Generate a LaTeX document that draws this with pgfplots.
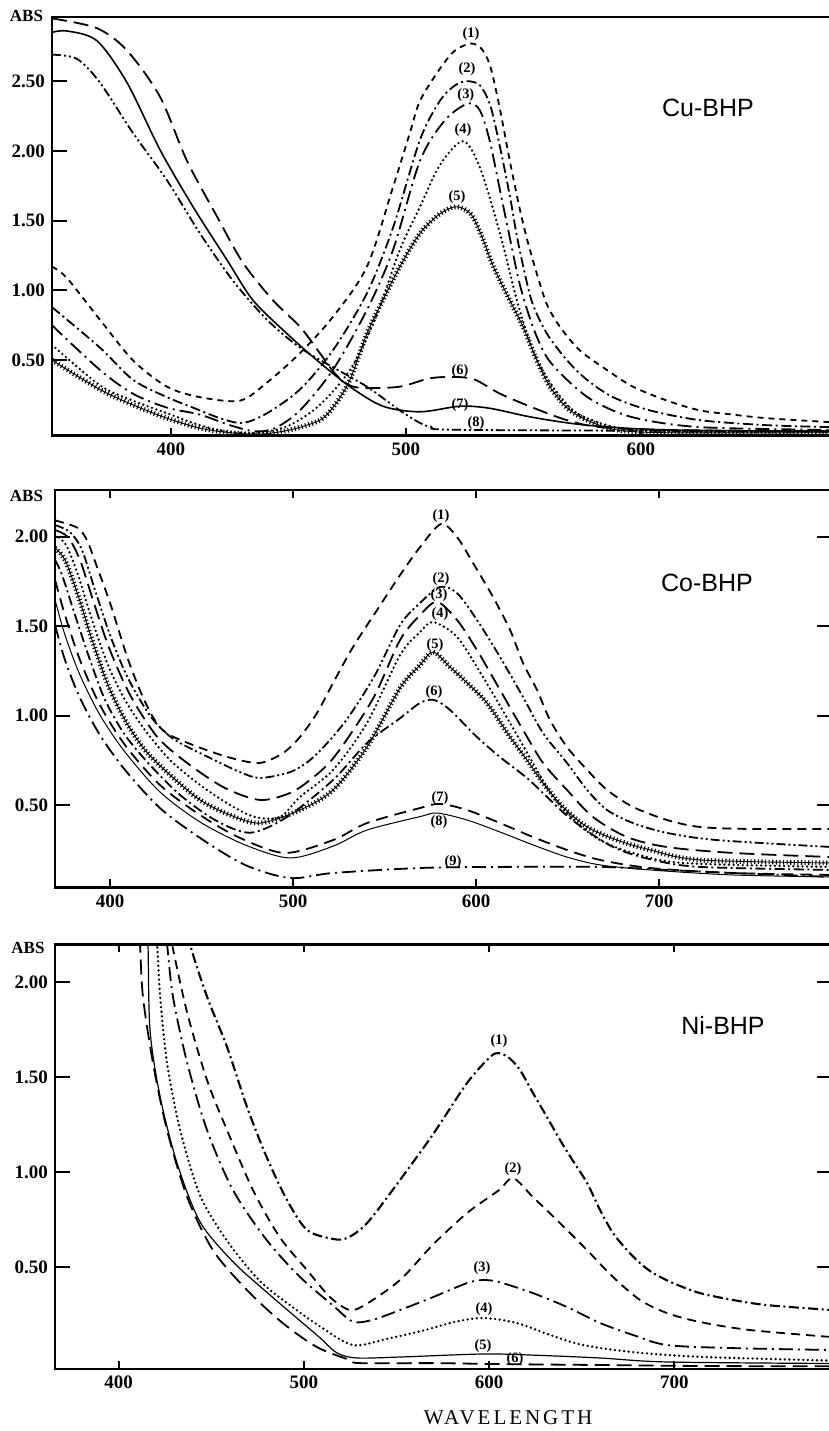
\documentclass[border=0pt]{standalone}
\usepackage{fontspec}
\setmainfont{Liberation Serif}
\newfontfamily\sansf{Liberation Sans}
\usepackage{pgfplots}
\pgfplotsset{compat=1.18}

\tikzset{
  cv/.style={smooth, tension=0.5, line width=0.9pt, black},
  sdash/.style={dash pattern=on 3pt off 2.5pt},
  mdash/.style={dash pattern=on 4.5pt off 3pt},
  ldash/.style={dash pattern=on 7.5pt off 3.5pt},
  dashdot/.style={dash pattern=on 5pt off 1.8pt on 1pt off 1.8pt},
  dashdotdot/.style={dash pattern=on 4.5pt off 1.5pt on 1pt off 1.5pt on 1pt off 1.5pt},
  ldashdot/.style={dash pattern=on 7pt off 2.5pt on 1pt off 2.5pt},
  dots/.style={line width=1.3pt, line cap=round, dash pattern=on 0pt off 2.3pt},
  xline/.style={line width=0.45pt, postaction={draw, line width=2.4pt, dash pattern=on 0.55pt off 1.25pt}},
  lab/.style={font=\bfseries\fontsize{7.2}{8}\selectfont, inner sep=0pt},
  ttl/.style={font=\sansf\fontsize{12.5}{13}\selectfont},
}

\pgfplotsset{
  panel/.style={
    scale only axis, anchor=north west, clip=true,
    axis line style={line width=1.4pt},
    tick align=inside, major tick length=7.5pt,
    tick style={line width=1pt, black},
    xtick style={/pgfplots/major tick length=4pt},
    ticklabel style={font=\bfseries\fontsize{9.5}{10}\selectfont},
  },
}

\begin{document}
\begin{tikzpicture}
\useasboundingbox (0,0) rectangle (414.5pt,-715.5pt);

% ---------------- Cu-BHP ----------------
\begin{axis}[panel, at={(26pt,-8.5pt)}, width=390pt, height=209.25pt,
  xmin=349.4, xmax=681.3, ymin=-0.04, ymax=2.96,
  xtick={400,500,600}, xticklabels={400,500,600},
  ytick={0.5,1,1.5,2,2.5}, yticklabels={0.50,1.00,1.50,2.00,2.50},
  xtick pos=left, ytick pos=left]
% (1)
\addplot[cv, sdash] coordinates {(349.4,1.17) (355.7,1.09) (369.8,0.79) (383.8,0.50) (398.3,0.31) (412.3,0.235) (429.4,0.21) (440.9,0.34) (454.9,0.55) (468.9,0.81) (483.4,1.17) (494.5,1.74) (501.7,2.13) (506.0,2.36) (514.5,2.59) (520.9,2.72) (527.7,2.77) (532.3,2.73) (536.0,2.60) (540.0,2.30) (544.3,1.92) (548.5,1.58) (551.5,1.37) (555.7,1.12) (560.0,0.90) (565.5,0.74) (574.0,0.57) (585.5,0.43) (596.6,0.31) (611.1,0.21) (625.1,0.14) (639.1,0.11) (653.6,0.084) (681.3,0.055)};
% (2)
\addplot[cv, dashdot] coordinates {(349.4,0.88) (369.8,0.59) (383.8,0.36) (398.3,0.235) (409.4,0.16) (420.9,0.084) (430.6,0.05) (440.9,0.12) (454.9,0.29) (468.9,0.57) (483.4,0.98) (494.5,1.45) (506.0,2.08) (514.5,2.36) (520.9,2.47) (526.0,2.50) (531.5,2.47) (536.0,2.32) (540.0,2.03) (544.3,1.67) (547.2,1.39) (550.6,1.12) (554.0,0.90) (560.0,0.69) (568.5,0.50) (577.0,0.36) (588.1,0.235) (603.8,0.14) (625.1,0.07) (653.6,0.034) (681.3,0.02)};
% (3)
\addplot[cv, ldashdot] coordinates {(349.4,0.75) (369.8,0.43) (383.8,0.26) (398.3,0.16) (412.3,0.11) (425.1,0.034) (435.7,-0.01) (444.3,0.013) (454.9,0.14) (468.9,0.43) (483.4,0.86) (494.5,1.29) (506.0,1.93) (516.6,2.22) (526.4,2.34) (531.5,2.29) (535.7,2.07) (540.0,1.72) (544.3,1.37) (548.5,1.04) (554.0,0.74) (560.0,0.52) (568.5,0.36) (579.6,0.21) (596.6,0.09) (625.1,0.02) (681.3,0.0)};
% (4)
\addplot[cv, dots] coordinates {(349.4,0.61) (369.8,0.32) (383.8,0.21) (398.3,0.12) (412.3,0.034) (425.1,-0.015) (437.9,-0.02) (450.6,0.034) (463.4,0.18) (476.2,0.43) (486.8,0.79) (497.4,1.29) (506.0,1.60) (514.5,1.90) (524.3,2.07) (531.5,1.88) (540.0,1.41) (547.2,0.93) (554.0,0.57) (561.3,0.34) (571.1,0.14) (582.6,0.05) (596.6,0.0) (625.1,-0.015) (681.3,-0.015)};
% (5)
\addplot[cv, xline] coordinates {(349.4,0.50) (369.8,0.29) (383.8,0.18) (398.3,0.084) (412.3,0.013) (425.1,-0.02) (437.9,-0.03) (450.6,0.0) (463.4,0.07) (469.8,0.18) (476.2,0.36) (483.4,0.69) (490.2,0.93) (497.4,1.17) (506.0,1.41) (514.5,1.55) (521.5,1.60) (527.5,1.55) (532.0,1.40) (537.0,1.18) (543.0,0.97) (549.8,0.74) (555.7,0.50) (561.3,0.31) (568.5,0.16) (577.0,0.07) (589.8,0.0) (611.1,-0.02) (681.3,-0.02)};
% (6)
\addplot[cv, ldash] coordinates {(349.4,2.95) (368.5,2.88) (381.3,2.72) (395.3,2.39) (406.8,1.93) (419.6,1.53) (430.6,1.20) (443.4,0.93) (454.9,0.74) (463.4,0.55) (470.0,0.40) (476.0,0.32) (482.6,0.30) (497.4,0.31) (510.2,0.37) (520.9,0.38) (529.4,0.36) (540.0,0.26) (554.0,0.16) (568.5,0.07) (582.6,0.02) (611.1,0.0) (681.3,-0.01)};
% (7)
\addplot[cv, line width=0.8pt] coordinates {(349.4,2.85) (355.7,2.86) (368.5,2.79) (381.3,2.49) (395.3,2.01) (409.4,1.60) (423.8,1.22) (434.9,0.93) (449.4,0.69) (462.1,0.50) (476.2,0.31) (490.2,0.17) (506.0,0.13) (523.0,0.17) (535.7,0.155) (554.0,0.09) (577.0,0.034) (611.1,0.0) (681.3,-0.01)};
% (8)
\addplot[cv, dashdotdot] coordinates {(349.4,2.69) (360.0,2.66) (369.8,2.49) (383.8,2.13) (398.3,1.79) (412.3,1.41) (426.4,1.07) (440.9,0.79) (454.9,0.59) (468.9,0.45) (483.4,0.31) (497.4,0.14) (506.0,0.05) (511.5,0.02) (526.0,0.0) (681.3,-0.01)};
\node[lab] at (axis cs:527.7,2.84) {(1)};
\node[lab] at (axis cs:526.0,2.59) {(2)};
\node[lab] at (axis cs:525.5,2.40) {(3)};
\node[lab] at (axis cs:524.3,2.15) {(4)};
\node[lab] at (axis cs:521.7,1.67) {(5)};
\node[lab] at (axis cs:523.0,0.42) {(6)};
\node[lab] at (axis cs:523.0,0.18) {(7)};
\node[lab] at (axis cs:529.8,0.05) {(8)};
\node[ttl] at (axis cs:628.5,2.31) {Cu-BHP};
\end{axis}

% ---------------- Co-BHP ----------------
\begin{axis}[panel, at={(27.55pt,-245pt)}, width=388.45pt, height=198.65pt,
  xmin=370, xmax=794.5, ymin=0.04, ymax=2.26,
  xtick={400,500,600,700}, xticklabels={400,500,600,700},
  ytick={0.5,1,1.5,2}, yticklabels={0.50,1.00,1.50,2.00}]
% (1)
\addplot[cv, mdash] coordinates {(370,2.09) (382.0,2.05) (387.4,1.98) (392.9,1.83) (400,1.63) (409.3,1.33) (416.4,1.14) (423.5,0.99) (431.1,0.90) (449.2,0.82) (467.2,0.76) (482.0,0.735) (494.5,0.79) (503.8,0.88) (513.1,1.014) (521.9,1.182) (532.8,1.383) (545.9,1.589) (558.5,1.785) (569.4,1.941) (580.9,2.07) (589.6,1.997) (598.4,1.852) (609.3,1.662) (618.6,1.478) (625.7,1.293) (633.3,1.143) (640.4,0.975) (649.7,0.824) (660.7,0.696) (671.6,0.584) (685.8,0.489) (704.4,0.416) (722.4,0.377) (749.7,0.366) (794.5,0.366)};
% (2)
\addplot[cv, dashdotdot] coordinates {(370,2.064) (378.1,2.025) (384.7,1.925) (391.8,1.701) (400,1.450) (408.2,1.243) (416.4,1.087) (424.6,0.964) (435.5,0.863) (454.6,0.763) (471.0,0.684) (482.0,0.651) (498.4,0.684) (509.3,0.751) (520.2,0.863) (531.1,1.003) (544.8,1.226) (558.5,1.506) (569.4,1.629) (580.3,1.718) (589.6,1.684) (600.5,1.534) (613.1,1.327) (625.7,1.103) (636.6,0.902) (649.7,0.735) (660.7,0.584) (671.6,0.472) (685.8,0.399) (704.4,0.344) (731.7,0.304) (794.5,0.265)};
% (3)
\addplot[cv, ldash] coordinates {(370,2.036) (377.0,1.997) (383.6,1.869) (390.7,1.645) (398.9,1.394) (408.2,1.171) (416.4,1.020) (427.3,0.863) (443.7,0.723) (462.8,0.595) (482.0,0.528) (498.4,0.567) (509.3,0.640) (520.2,0.740) (531.1,0.891) (544.8,1.115) (558.5,1.422) (569.4,1.561) (578.7,1.635) (589.6,1.534) (600.5,1.366) (613.1,1.143) (625.7,0.919) (636.6,0.735) (649.7,0.584) (663.9,0.433) (682.5,0.321) (704.4,0.265) (740.4,0.232) (794.5,0.209)};
% (4)
\addplot[cv, dots] coordinates {(370,2.008) (376.0,1.953) (382.5,1.785) (390.2,1.534) (398.9,1.282) (408.2,1.087) (419.1,0.919) (432.8,0.751) (449.2,0.612) (465.6,0.500) (479.2,0.433) (492.9,0.433) (503.8,0.545) (521.9,0.696) (540.4,0.958) (558.5,1.338) (569.4,1.466) (576.5,1.522) (589.6,1.439) (603.8,1.215) (618.6,0.958) (631.1,0.735) (642.1,0.545) (655.2,0.399) (667.8,0.304) (685.8,0.232) (713.1,0.176) (794.5,0.154)};
% (5)
\addplot[cv, xline] coordinates {(370,1.936) (375.4,1.869) (382.5,1.673) (390.2,1.422) (398.9,1.171) (408.2,0.975) (419.1,0.807) (432.8,0.668) (449.2,0.528) (465.6,0.444) (482.0,0.399) (503.8,0.472) (521.9,0.584) (540.4,0.824) (558.5,1.154) (569.4,1.282) (576.5,1.355) (585.8,1.271) (595.1,1.182) (606.0,1.070) (618.6,0.880) (627.9,0.751) (636.6,0.623) (647.5,0.489) (660.7,0.377) (677.0,0.304) (695.1,0.249) (722.4,0.193) (794.5,0.176)};
% (6)
\addplot[cv, dashdot] coordinates {(370,1.869) (373.8,1.785) (380.9,1.561) (389.1,1.310) (397.3,1.087) (408.2,0.891) (421.9,0.723) (438.3,0.556) (457.4,0.416) (476.5,0.345) (496.7,0.433) (521.9,0.640) (540.4,0.846) (558.5,0.985) (569.4,1.070) (577.0,1.087) (585.8,1.031) (600.5,0.880) (613.1,0.768) (627.9,0.650) (638.8,0.545) (649.7,0.440) (662.3,0.344) (677.0,0.255) (696.7,0.193) (722.4,0.154) (794.5,0.137)};
% (7)
\addplot[cv, dash pattern=on 6pt off 3.5pt] coordinates {(370,1.757) (375.4,1.561) (383.6,1.310) (394.5,1.059) (408.2,0.835) (427.3,0.612) (449.2,0.444) (471.0,0.316) (495.6,0.232) (521.9,0.304) (540.4,0.399) (569.4,0.483) (580.3,0.506) (595.1,0.472) (613.1,0.399) (631.1,0.321) (649.7,0.249) (667.8,0.193) (695.1,0.148) (740.4,0.120) (794.5,0.109)};
% (8)
\addplot[cv, line width=0.5pt] coordinates {(370,1.645) (375.4,1.450) (383.6,1.226) (394.5,1.003) (408.2,0.796) (427.3,0.573) (449.2,0.405) (473.8,0.277) (498.4,0.204) (521.9,0.270) (540.4,0.360) (569.4,0.435) (578.7,0.455) (595.1,0.416) (613.1,0.349) (631.1,0.277) (649.7,0.209) (667.8,0.165) (695.1,0.137) (740.4,0.109) (794.5,0.098)};
% (9)
\addplot[cv, ldashdot] coordinates {(370,1.506) (375.4,1.310) (383.6,1.098) (394.5,0.891) (408.2,0.696) (427.3,0.483) (449.2,0.316) (473.8,0.165) (498.4,0.092) (521.9,0.120) (569.4,0.148) (613.1,0.154) (667.8,0.154) (704.4,0.137) (740.4,0.120) (794.5,0.098)};
\node[lab] at (axis cs:580.9,2.115) {(1)};
\node[lab] at (axis cs:580.9,1.763) {(2)};
\node[lab] at (axis cs:579.8,1.673) {(3)};
\node[lab] at (axis cs:580.3,1.567) {(4)};
\node[lab] at (axis cs:577.6,1.394) {(5)};
\node[lab] at (axis cs:577.0,1.131) {(6)};
\node[lab] at (axis cs:580.3,0.539) {(7)};
\node[lab] at (axis cs:579.8,0.405) {(8)};
\node[lab] at (axis cs:587.4,0.182) {(9)};
\node[ttl] at (axis cs:726.2,1.74) {Co-BHP};
\end{axis}

% ---------------- Ni-BHP ----------------
\begin{axis}[panel, at={(27.5pt,-472.05pt)}, width=388.55pt, height=212.45pt,
  xmin=365.6, xmax=785.2, ymin=-0.034, ymax=2.20,
  xtick={400,500,600,700}, xticklabels={400,500,600,700},
  ytick={0.5,1,1.5,2}, yticklabels={0.50,1.00,1.50,2.00}]
% (1)
\addplot[cv, dashdot, line width=1.05pt] coordinates {(436.5,2.35) (438.5,2.20) (447.7,1.923) (458.5,1.659) (469.3,1.343) (479.9,1.080) (490.9,0.854) (501.7,0.697) (515.7,0.650) (523.3,0.655) (534.1,0.733) (551.9,0.96) (569.7,1.20) (588.1,1.470) (600.5,1.606) (605.4,1.627) (611.0,1.60) (616.7,1.538) (623.7,1.417) (631.3,1.290) (638.3,1.170) (645.3,1.060) (652.9,0.944) (659.9,0.802) (666.9,0.681) (674.5,0.591) (681.5,0.523) (688.5,0.471) (699.3,0.418) (713.9,0.365) (731.7,0.329) (750.1,0.302) (785.2,0.276)};
% (2)
\addplot[cv, mdash] coordinates {(426.5,2.35) (428.8,2.20) (437.0,1.838) (447.7,1.485) (458.5,1.222) (472.5,0.907) (486.9,0.660) (501.7,0.486) (514.1,0.344) (524.9,0.276) (534.1,0.310) (551.9,0.434) (569.7,0.620) (588.1,0.786) (605.4,0.907) (612.9,0.970) (623.7,0.870) (638.3,0.733) (652.9,0.591) (666.9,0.450) (681.5,0.329) (696.1,0.260) (713.9,0.213) (740.9,0.171) (785.2,0.134)};
% (3)
\addplot[cv, ldashdot] coordinates {(424.0,2.35) (426.1,2.20) (429.3,1.923) (437.0,1.575) (447.7,1.222) (461.7,0.907) (479.9,0.644) (497.9,0.450) (515.7,0.300) (526.5,0.215) (537.3,0.225) (551.9,0.276) (569.7,0.344) (588.1,0.418) (596.7,0.434) (605.4,0.423) (623.7,0.365) (642.1,0.292) (659.9,0.208) (677.7,0.145) (696.1,0.092) (731.7,0.076) (785.2,0.066)};
% (4)
\addplot[cv, dots] coordinates {(418.5,2.35) (420.7,2.20) (422.4,1.923) (426.1,1.575) (433.2,1.222) (443.9,0.880) (458.5,0.640) (476.1,0.430) (494.1,0.290) (508.7,0.190) (526.5,0.092) (545.0,0.125) (565.0,0.170) (582.0,0.215) (597.0,0.234) (614.9,0.208) (632.9,0.145) (650.7,0.092) (677.7,0.055) (714.0,0.03) (785.2,0.01)};
% (5)
\addplot[cv, line width=0.6pt] coordinates {(414.5,2.35) (415.8,2.20) (416.9,1.748) (422.4,1.396) (431.5,1.049) (443.9,0.740) (461.7,0.530) (479.9,0.370) (497.9,0.220) (508.7,0.130) (518.0,0.050) (528.7,0.024) (551.9,0.029) (596.7,0.045) (623.7,0.039) (659.9,0.024) (696.1,0.003) (785.2,-0.005)};
% (6)
\addplot[cv, ldash] coordinates {(410.5,2.35) (411.5,2.20) (413.1,1.923) (418.5,1.575) (426.1,1.222) (437.0,0.870) (450.9,0.591) (469.3,0.381) (488.5,0.208) (507.1,0.081) (524.9,0.013) (530.3,-0.003) (569.7,-0.003) (605.4,-0.008) (659.9,-0.013) (713.9,-0.018) (785.2,-0.02)};
\node[lab] at (axis cs:605.3,1.690) {(1)};
\node[lab] at (axis cs:612.9,1.017) {(2)};
\node[lab] at (axis cs:596.2,0.497) {(3)};
\node[lab] at (axis cs:597.2,0.281) {(4)};
\node[lab] at (axis cs:596.7,0.087) {(5)};
\node[lab] at (axis cs:614.0,0.018) {(6)};
\node[ttl] at (axis cs:726.3,1.774) {Ni-BHP};
\end{axis}

\node[font=\bfseries\fontsize{8.5}{9}\selectfont] at (13.25pt,-8pt) {ABS};
\node[font=\bfseries\fontsize{8.5}{9}\selectfont] at (13.25pt,-248pt) {ABS};
\node[font=\bfseries\fontsize{8.5}{9}\selectfont] at (14pt,-474pt) {ABS};
\node[font=\fontsize{10.5}{12}\selectfont\addfontfeature{LetterSpace=14}] at (254pt,-709pt) {WAVELENGTH};
\end{tikzpicture}
\end{document}
